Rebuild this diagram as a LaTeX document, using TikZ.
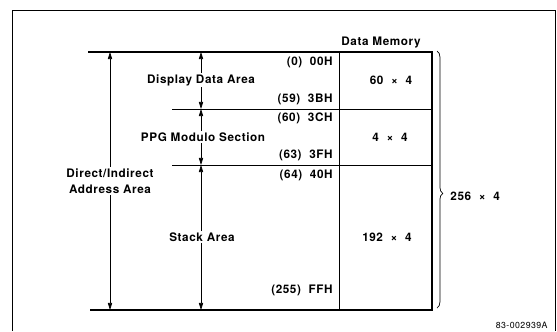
\documentclass[tikz,border=0pt]{standalone}
\usepackage{fontspec}
\setmainfont{TeX Gyre Heros}[LetterSpace=5]
\usetikzlibrary{positioning, arrows.meta, decorations.pathreplacing}

\begin{document}
\begin{tikzpicture}[x=0.03cm, y=-0.03cm,
  every node/.style={font=\fontsize{10}{12}\selectfont\bfseries, align=center, inner sep=1pt},
  addr/.style={anchor=east},
  arr/.style={-{Triangle[length=6pt, width=3.6pt]}, line width=0.6pt},
  heavy/.style={line width=1.5pt},
  thin/.style={line width=0.6pt}
]
\useasboundingbox (0,0) rectangle (557,331);

% outer frame
\draw[thin] (12,331) -- (12,10) -- (555,10) -- (555,331);

% memory map
\coordinate (topL) at (88,52);
\coordinate (topR) at (432,52);
\coordinate (botL) at (90,310);
\coordinate (botR) at (432,310);
\coordinate (midA) at (172,109);
\coordinate (midB) at (172,165);

\draw[heavy] (topL) -- (topR) -- (botR) -- (botL);
\draw[thin] (midA) -- (midA -| topR);
\draw[thin] (midB) -- (midB -| topR);
\draw[line width=0.8pt] (339,52) -- (339,310);

\node (title) at (381,43) {Data Memory};

% addresses
\node[addr] (a00) at (334,62)  {(0)\ \ 00H};
\node[addr] (a3B) at (334,99)  {(59)\ \ 3BH};
\node[addr] (a3C) at (334,118) {(60)\ \ 3CH};
\node[addr] (a3F) at (334,155) {(63)\ \ 3FH};
\node[addr] (a40) at (334,175) {(64)\ \ 40H};
\node[addr] (aFF) at (334,290) {(255)\ \ FFH};

% sizes
\node (s60)  at (391,80)  {60\ \ ×\ \ 4};
\node (s4)   at (390,137) {4\ \ ×\ \ 4};
\node (s192) at (387,237) {192\ \ ×\ \ 4};

% areas
\node (disp)  at (201,80)  {Display Data Area};
\node (ppg)   at (203,137) {PPG Modulo Section};
\node (stack) at (202,237) {Stack Area};
\node (dir)   at (110,181) {Direct/Indirect\\[2pt]Address Area};

\draw[arr] (disp.north)  -- (disp.north |- topL);
\draw[arr] (disp.south)  -- (disp.south |- midA);
\draw[arr] (ppg.north -| disp)  -- (disp |- midA);
\draw[arr] (ppg.south -| disp)  -- (disp |- midB);
\draw[arr] (stack.north -| disp) -- (disp |- midB);
\draw[arr] (stack.south -| disp) -- (disp |- botL);
\draw[arr] (dir.north) -- (dir.north |- topL);
\draw[arr] (dir.south) -- (dir.south |- botL);

% total size
\draw[thin, decorate, decoration={brace, amplitude=5pt, aspect=0.554}]
  (437,51) -- (437,308);
\node[anchor=west] (total) at (449,196) {256\ \ ×\ \ 4};

\node[anchor=east, font=\fontsize{7.5}{8}\selectfont] (code) at (549,325) {83-002939A};
\end{tikzpicture}
\end{document}
